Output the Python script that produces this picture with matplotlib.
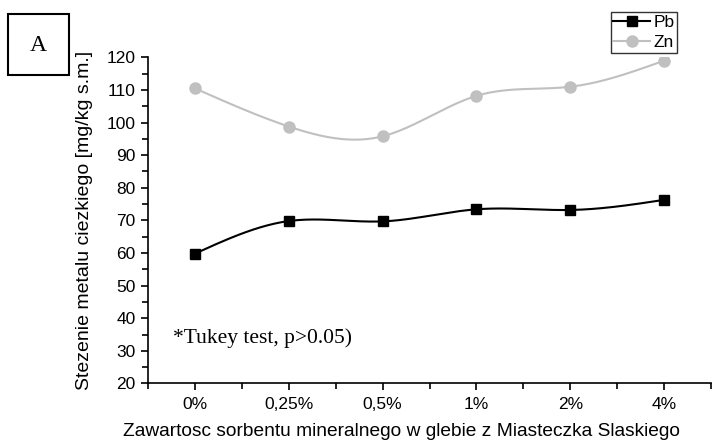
import numpy as np
import matplotlib
matplotlib.use("Agg")
import matplotlib.pyplot as plt
from matplotlib.patches import Rectangle
from matplotlib.ticker import MultipleLocator, FixedLocator

plt.rcParams['font.family'] = ['Liberation Sans', 'DejaVu Sans']

categories = ["0%", "0,25%", "0,5%", "1%", "2%", "4%"]
pb = [59.8, 69.8, 69.7, 73.4, 73.2, 76.3]
zn = [110.5, 98.8, 95.8, 108.2, 111.0, 119.0]


def spline_curve(y, n=40):
    # natural cubic spline through the points, only used for the connecting line
    y = np.asarray(y, dtype=float)
    x = np.arange(len(y), dtype=float)
    m = len(y)
    A = np.zeros((m, m))
    b = np.zeros(m)
    A[0, 0] = 1
    A[-1, -1] = 1
    for i in range(1, m - 1):
        A[i, i - 1] = 1
        A[i, i] = 4
        A[i, i + 1] = 1
        b[i] = 6 * (y[i + 1] - 2 * y[i] + y[i - 1])
    M = np.linalg.solve(A, b)
    xs, ys = [], []
    for i in range(m - 1):
        t = np.linspace(0, 1, n)
        seg = ((1 - t) * y[i] + t * y[i + 1]
               + ((1 - t) ** 3 - (1 - t)) * M[i] / 6
               + (t ** 3 - t) * M[i + 1] / 6)
        xs.append(x[i] + t)
        ys.append(seg)
    return np.concatenate(xs), np.concatenate(ys)


fig = plt.figure(figsize=(7.15, 4.42), dpi=100)
ax = fig.add_axes([148 / 715, (442 - 383.4) / 442, (711 - 148) / 715, (383.4 - 57.4) / 442])

x = np.arange(len(categories))
sx, sy = spline_curve(pb)
ax.plot(sx, sy, color='black', lw=1.5)
sx, sy = spline_curve(zn)
ax.plot(sx, sy, color='#c0c0c0', lw=1.5)
ax.plot(x, pb, 's', color='black', ms=7.5)
ax.plot(x, zn, 'o', color='#c0c0c0', ms=8)

# legend handles
ax.plot([], [], '-s', color='black', lw=1.5, ms=7.5, label='Pb')
ax.plot([], [], '-o', color='#c0c0c0', lw=1.5, ms=8, label='Zn')
leg = ax.legend(loc='upper right', bbox_to_anchor=(677 / 715, 1 - 12 / 442),
                bbox_transform=fig.transFigure, fontsize=12.5, frameon=True,
                fancybox=False, edgecolor='black', handlelength=2.1,
                handletextpad=0.2, borderpad=0.15, labelspacing=0.3,
                borderaxespad=0)
leg.get_frame().set_linewidth(1.0)

ax.set_xlim(-0.5, 5.5)
ax.set_ylim(20, 120)
ax.set_xticks(x)
ax.set_xticklabels(categories)
ax.xaxis.set_minor_locator(FixedLocator(np.arange(-0.5, 5.6, 1)))
ax.yaxis.set_major_locator(MultipleLocator(10))
ax.yaxis.set_minor_locator(MultipleLocator(5))
ax.tick_params(which='both', direction='out', width=1.2, labelsize=12.5)
ax.tick_params(which='major', length=5, pad=4)
ax.tick_params(which='minor', length=4)
ax.tick_params(axis='x', pad=5)
for s in ['top', 'right']:
    ax.spines[s].set_visible(False)
for s in ['left', 'bottom']:
    ax.spines[s].set_linewidth(1.2)

ax.set_ylabel('Stezenie metalu ciezkiego [mg/kg s.m.]', fontsize=14, labelpad=9.5)
ax.set_xlabel('Zawartosc sorbentu mineralnego w glebie z Miasteczka Slaskiego',
              fontsize=13.8, labelpad=8)
ax.xaxis.label.set_x(0.45)

ax.text(173 / 715, 1 - 343 / 442, '*Tukey test, p>0.05)', transform=fig.transFigure,
        family='Liberation Serif', fontsize=15.5, ha='left', va='baseline')

fig.patches.append(Rectangle((8 / 715, 1 - 75 / 442), 61 / 715, 61 / 442,
                             transform=fig.transFigure, fill=False,
                             edgecolor='black', lw=1.5))
fig.text(38.5 / 715, 1 - 45.5 / 442, 'A', family='Liberation Serif',
         fontsize=17, ha='center', va='center')

fig.savefig('out.png', dpi=100)
